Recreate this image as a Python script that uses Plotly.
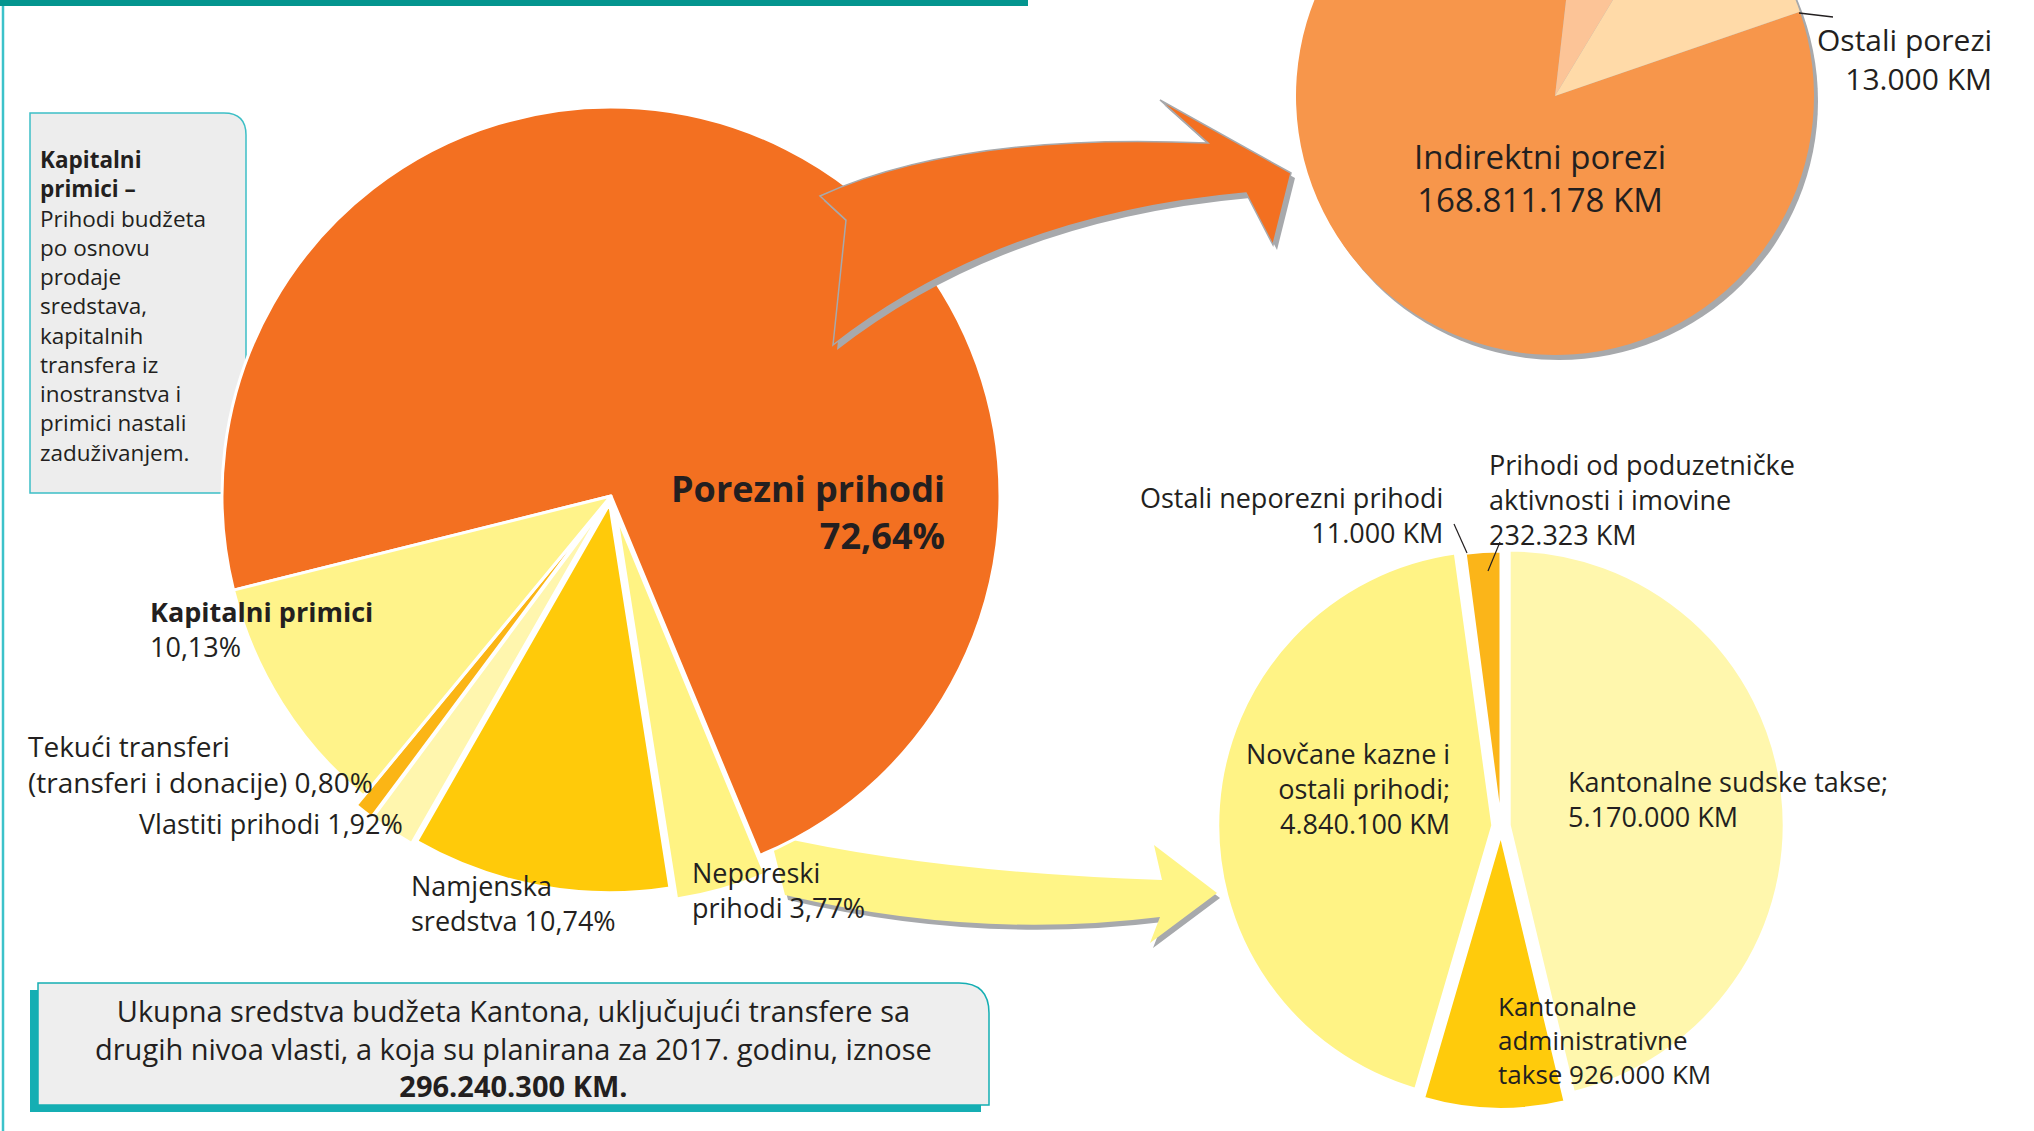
import plotly.graph_objects as go

# ---------------- data ----------------
main_labels = ["Porezni prihodi", "Neporeski prihodi", "Namjenska sredstva",
               "Vlastiti prihodi", "Tekući transferi (transferi i donacije)", "Kapitalni primici"]
main_values = [72.64, 3.77, 10.74, 1.92, 0.80, 10.13]
main_colors = ["#F37021", "#FFF383", "#FFCA0A", "#FFF6AE", "#FBB515", "#FFF38A"]
main_pull = [0, 0.05, 0.02, 0.03, 0.03, 0]

tax_labels = ["Ostali porezi", "Indirektni porezi", "Porez na imovinu", "Porez na dohodak"]
tax_values = [13000, 168811178, 14000000, 22800000]
tax_colors = ["#FFDAA8", "#F7964B", "#FCC497", "#FFDAA8"]

nontax_labels = ["Kantonalne sudske takse", "Kantonalne administrativne takse",
                 "Novčane kazne i ostali prihodi", "Ostali neporezni prihodi",
                 "Prihodi od poduzetničke aktivnosti i imovine"]
nontax_values = [5170000, 926000, 4840100, 11000, 232323]
nontax_colors = ["#FFF7AD", "#FFCB0C", "#FFF385", "#FFF9C8", "#FBB519"]
nontax_pull = [0.03, 0.03, 0.03, 0, 0]

total_budget = 296240300


def pct(v):
    return f"{v:.2f}".replace(".", ",") + "%"


def km(v):
    return f"{v:,}".replace(",", ".") + " KM"


# ---------------- canvas geometry ----------------
W, HV = 2034, 1131
OFF = 170            # part of the figure above the visible page (top pie is cut off)
H = HV + OFF


def dom(cx, cy, side):
    return dict(x=[(cx - side / 2) / W, (cx + side / 2) / W],
                y=[1 - (cy + side / 2 + OFF) / H, 1 - (cy - side / 2 + OFF) / H])


fig = go.Figure()

# invisible anchor so the pixel axes exist
fig.add_trace(go.Scatter(x=[0, W], y=[-OFF, HV], mode="markers",
                         marker=dict(opacity=0), hoverinfo="skip", showlegend=False))

R_MAIN = 389
fig.add_trace(go.Pie(
    labels=main_labels, values=main_values, sort=False, direction="clockwise",
    rotation=256, pull=main_pull, textinfo="none", hoverinfo="label+percent",
    marker=dict(colors=main_colors, line=dict(color="white", width=3)),
    domain=dom(611, 496, 2 * R_MAIN * (1 + max(main_pull))), showlegend=False))

R_TAX = 259
fig.add_trace(go.Pie(
    labels=tax_labels, values=tax_values, sort=False, direction="clockwise",
    rotation=71, textinfo="none", hoverinfo="label+value",
    marker=dict(colors=tax_colors, line=dict(width=0)),
    domain=dom(1555, 96, 2 * R_TAX), showlegend=False))

R_NT = 275
fig.add_trace(go.Pie(
    labels=nontax_labels, values=nontax_values, sort=False, direction="clockwise",
    rotation=0, pull=nontax_pull, textinfo="none", hoverinfo="label+value",
    marker=dict(colors=nontax_colors, line=dict(color="white", width=3)),
    domain=dom(1501, 826, 2 * R_NT * (1 + max(nontax_pull))), showlegend=False))


# ---------------- decorations ----------------
def path(cmds, dx=0, dy=0):
    out = []
    for c in cmds:
        op, nums = c[0], c[1:]
        pts = []
        for i in range(0, len(nums), 2):
            pts.append(f"{nums[i] + dx} {nums[i + 1] + dy}")
        out.append(op + " " + " ".join(pts))
    return " ".join(out) + " Z"


orange_arrow = [("M", 820, 196), ("Q", 960, 132, 1208, 143), ("L", 1160, 100),
                ("L", 1291, 173), ("L", 1273, 245), ("L", 1246, 193),
                ("Q", 1000, 215, 833, 345), ("L", 846, 220)]
yellow_arrow = [("M", 770, 835), ("Q", 930, 872, 1162, 880), ("L", 1154, 845),
                ("L", 1217, 893), ("L", 1150, 943), ("L", 1160, 917),
                ("Q", 975, 940, 785, 895)]

GRAY = "#A7A9AC"
TEAL = "#15AEB3"
shapes = [
    # top teal bar and left rule
    dict(type="rect", x0=0, x1=1028, y0=-20, y1=6, fillcolor="#04958F", line=dict(width=0), layer="below"),
    dict(type="line", x0=3, x1=3, y0=6, y1=HV, line=dict(color="#3CC2CA", width=2.5), layer="below"),
    # left info box
    dict(type="path", path="M 30 493 L 30 113 L 224 113 Q 246 113 246 135 L 246 493 Z",
         fillcolor="#EDEDED", line=dict(color="#3DBFC6", width=1.5), layer="below"),
    # bottom info box with teal shadow
    dict(type="rect", x0=30, x1=981, y0=990, y1=1112, fillcolor=TEAL, line=dict(width=0), layer="below"),
    dict(type="path", path="M 38 1105 L 38 983 L 959 983 Q 989 983 989 1013 L 989 1105 Z",
         fillcolor="#EEEEEE", line=dict(color=TEAL, width=1.5), layer="below"),
    # top pie shadow
    dict(type="circle", x0=1555 - R_TAX + 4, x1=1555 + R_TAX + 4, y0=96 - R_TAX + 5, y1=96 + R_TAX + 5,
         fillcolor=GRAY, line=dict(width=0), layer="below"),
    # yellow arrow (under the pies)
    dict(type="path", path=path(yellow_arrow, 3, 5), fillcolor=GRAY, line=dict(width=0), layer="below"),
    dict(type="path", path=path(yellow_arrow), fillcolor="#FFF587", line=dict(width=0), layer="below"),
    # orange arrow (over the main pie)
    dict(type="path", path=path(orange_arrow, 4, 5), fillcolor=GRAY, line=dict(width=0), layer="above"),
    dict(type="path", path=path(orange_arrow), fillcolor="#F37021", line=dict(color=GRAY, width=1.5), layer="above"),
    # leader lines
    dict(type="line", x0=1799, y0=13, x1=1833, y1=17, line=dict(color="#231F20", width=1.3), layer="above"),
    dict(type="line", x0=1454, y0=524, x1=1467, y1=553, line=dict(color="#231F20", width=1.2), layer="above"),
    dict(type="line", x0=1500, y0=542, x1=1488, y1=571, line=dict(color="#231F20", width=1.2), layer="above"),
]

# ---------------- text ----------------
FONT = "Open Sans"
INK = "#231F20"
ann = []


def block(txts, x, yc, size, anchor="left"):
    """One multi-line text block, vertically centred on yc (page pixels)."""
    ann.append(dict(x=x, y=yc, xref="x", yref="y", text="<br>".join(txts), showarrow=False,
                    xanchor=anchor, yanchor="middle", align=anchor,
                    font=dict(family=FONT, size=size, color=INK)))


# main pie
block([f"<b>{main_labels[0]}</b>", f"<b>{pct(main_values[0])}</b>"], 947, 512, 36, "right")
block([f"<b>{main_labels[5]}</b>", pct(main_values[5])], 148, 629, 27)
block(["Tekući transferi", f"(transferi i donacije) {pct(main_values[4])}"], 26, 764, 28)
block([f"{main_labels[3]} {pct(main_values[3])}"], 137, 823, 27)
block(["Namjenska", f"sredstva {pct(main_values[2])}"], 409, 903, 27)
block(["Neporeski", f"prihodi {pct(main_values[1])}"], 690, 890, 27)

# info box
info = ["<b>Kapitalni</b>", "<b>primici –</b>", "Prihodi budžeta", "po osnovu", "prodaje",
        "sredstava,", "kapitalnih", "transfera iz", "inostranstva i", "primici nastali",
        "zaduživanjem."]
block(info, 38, 306, 22.5)

# bottom box
block(["Ukupna sredstva budžeta Kantona, uključujući transfere sa",
       "drugih nivoa vlasti, a koja su planirana za 2017. godinu, iznose",
       f"<b>{km(total_budget)}.</b>"], 513, 1048, 29, "center")

# top-right pie
block([tax_labels[1], km(tax_values[1])], 1540, 178, 33, "center")
block([tax_labels[0], km(tax_values[0])], 1994, 59, 30, "right")

# bottom-right pie
block(["Ostali neporezni prihodi", km(nontax_values[3])], 1445, 515, 27, "right")
block(["Prihodi od poduzetničke", "aktivnosti i imovine", km(nontax_values[4])], 1487, 499, 27)
block(["Novčane kazne i", "ostali prihodi;", km(nontax_values[2])], 1452, 788, 27, "right")
block(["Kantonalne sudske takse;", km(nontax_values[0])], 1566, 799, 27)
block(["Kantonalne", "administrativne", f"takse {km(nontax_values[1])}"], 1496, 1040, 26)

fig.update_layout(
    width=W, height=H, margin=dict(l=0, r=0, t=0, b=0),
    paper_bgcolor="white", plot_bgcolor="white",
    xaxis=dict(range=[0, W], visible=False, fixedrange=True, domain=[0, 1]),
    yaxis=dict(range=[HV, -OFF], visible=False, fixedrange=True, domain=[0, 1]),
    shapes=shapes, annotations=ann, showlegend=False,
    font=dict(family=FONT, color=INK),
)

post = ("var d=document.getElementById('{plot_id}');"
        "d.style.position='absolute';d.style.left='0px';d.style.top='-" + str(OFF) + "px';"
        "document.body.style.margin='0';document.body.style.overflow='hidden';")

fig.write_html("out.html", config={"displayModeBar": False}, post_script=post)
